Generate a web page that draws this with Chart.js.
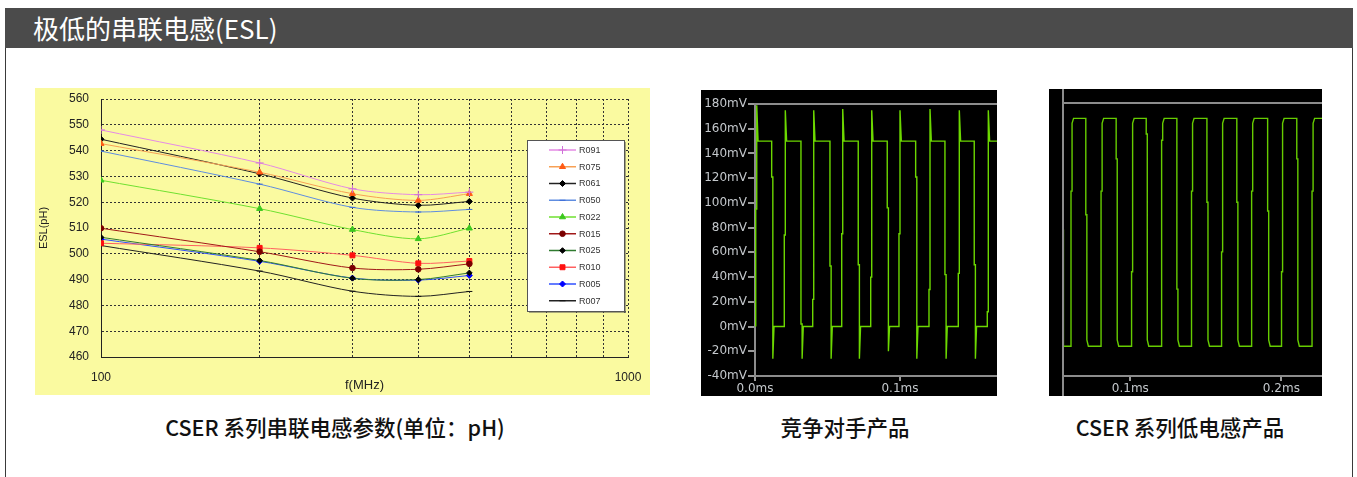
<!DOCTYPE html>
<html><head><meta charset="utf-8">
<script src="https://cdn.jsdelivr.net/npm/chart.js@4.4.0/dist/chart.umd.min.js"></script>
<style>
html,body{margin:0;padding:0;background:#fff;width:1357px;height:477px;overflow:hidden;font-family:"Noto Sans CJK SC","Noto Sans",sans-serif;}
#panel{position:absolute;left:5px;top:8px;width:1348px;height:480px;border:1px solid #3a3a3a;box-sizing:border-box;}
#hdr{position:absolute;left:5px;top:8px;width:1348px;height:40px;background:#4b4b4b;color:#fff;font-size:26px;line-height:40px;padding-left:28px;box-sizing:border-box;white-space:nowrap;}
.box{position:absolute;}
.cap{position:absolute;top:412px;font-size:21.5px;font-weight:500;color:#111;white-space:nowrap;transform:translateX(-50%);line-height:30px;}
</style></head>
<body>
<div id="panel"></div>
<div id="hdr">极低的串联电感(ESL)</div>

<div class="box" style="left:35px;top:88px;width:615px;height:307px;background:#fafaa0;"><canvas id="cMain" width="615" height="307"></canvas></div>
<div class="box" style="left:701px;top:90px;width:296px;height:306px;background:#000;"><canvas id="cScope1" width="296" height="306"></canvas></div>
<div class="box" style="left:1049px;top:89px;width:273px;height:307px;background:#000;"><canvas id="cScope2" width="273" height="307"></canvas></div>
<div class="box" style="left:1062px;top:89px;width:2px;height:307px;background:#8c8c8c;"></div>

<div class="cap" style="left:335px;">CSER 系列串联电感参数(单位：pH)</div>
<div class="cap" style="left:845px;">竞争对手产品</div>
<div class="cap" style="left:1180px;">CSER 系列低电感产品</div>

<script>
// ---------- main chart data ----------
const freqs = [100, 200, 300, 400, 500];
const xGridTicks = [100, 200, 300, 400, 500, 600, 700, 800, 900, 1000];
const xTickLabels = [100, 1000];
const seriesNames = ['R091','R075','R061','R050','R022','R015','R025','R010','R005','R007'];
const R091 = [548.0, 535.2, 525.2, 522.9, 523.9];
const R075 = [542.7, 531.6, 523.3, 520.7, 523.3];
const R061 = [544.4, 531.0, 521.6, 518.8, 520.3];
const R050 = [539.8, 527.0, 518.0, 516.2, 517.2];
const R022 = [528.5, 517.5, 509.4, 505.8, 509.9];
const R015 = [509.9, 500.8, 494.5, 494.0, 496.1];
const R025 = [506.4, 497.4, 490.5, 490.0, 492.6];
const R010 = [504.1, 502.3, 499.4, 496.3, 497.2];
const R005 = [505.7, 497.1, 490.6, 489.8, 491.6];
const R007 = [503.2, 493.3, 485.5, 483.5, 485.4];
const seriesValues = {R091,R075,R061,R050,R022,R015,R025,R010,R005,R007};

// ---------- oscilloscope data (time in ms, level in mV) ----------
const scopeYTicks = [-40,-20,0,20,40,60,80,100,120,140,160,180];
const scope1XTicks = [0, 0.1];
const scope1XTickLabels = ['0.0ms','0.1ms'];
const scope1RiseT = [0.0005, 0.0202, 0.0398, 0.0598, 0.0798, 0.0993, 0.1200, 0.1402, 0.1602];
const scope1FallT = [0.0115, 0.0317, 0.0517, 0.0712, 0.0912, 0.1108, 0.1310, 0.1512];
const scope1RiseStep = [95, 74, 22, 75, 40, 75, 30, 43, 12];
const scope1FallStep = [121, 2, 49, 50, 96, 121, 42, 50];
const scope1Peak = [179, 175, 175, 176, 175, 175, 176, 175, 175];
const scope1Under = [-26, -26, -26, -26, -20, -26, -26, -26];
const scope1High = 150, scope1Low = 0;
const scope1Range = [0, 0.1669];

const scope2XTicks = [0.1, 0.2];
const scope2XTickLabels = ['0.1ms','0.2ms'];
const scope2RiseT = [0.0607, 0.0806, 0.1008, 0.1207, 0.1405, 0.1604, 0.1803, 0.2001, 0.2203];
const scope2FallT = [0.0705, 0.0906, 0.1105, 0.1308, 0.1507, 0.1705, 0.1909, 0.2102];
const scope2RiseStep = [109, 109, 44, 150, 109, 60, 109, 44, 109];
const scope2FallStep = [90, 135, 155, 30, 100, 100, 93, 135];
const scope2High = 167.6, scope2Low = -16;
const scope2StartLevel = 78;
const scope2Range = [0.0554, 0.2269];

// ---------- styles ----------
const styles = {
  R091:{line:'#e58ae5', mark:'#d070d8', shape:'cross', r:4},
  R075:{line:'#f7a055', mark:'#ff5a14', shape:'triangle', r:3.5},
  R061:{line:'#222222', mark:'#000000', shape:'rectRot', r:3},
  R050:{line:'#5f8de0', mark:'#3a6ad8', shape:'line', r:3},
  R022:{line:'#6fe030', mark:'#3cc81e', shape:'triangle', r:3.5},
  R015:{line:'#a01818', mark:'#7a0000', shape:'circle', r:2.8},
  R025:{line:'#2f7a2f', mark:'#000000', shape:'rectRot', r:2.8},
  R010:{line:'#ff6060', mark:'#ff1010', shape:'rect', r:3.5},
  R005:{line:'#3050ff', mark:'#0000ff', shape:'rectRot', r:3},
  R007:{line:'#222222', mark:'#111111', shape:'line', r:3}
};

function drawMarker(ctx, style, radius, x, y) {
  if (Chart.helpers && Chart.helpers.drawPoint) {
    Chart.helpers.drawPoint(ctx, {pointStyle: style, radius: radius, borderWidth: 1, rotation: 0}, x, y);
    return;
  }
  ctx.beginPath(); ctx.arc(x, y, radius, 0, Math.PI*2); ctx.fill(); ctx.stroke();
}

const boxLegend = {
  id: 'boxLegend',
  afterDraw(chart) {
    const ctx = chart.ctx;
    const bx = 492, by = 52, bw = 97, bh = 171;
    ctx.save();
    ctx.fillStyle = '#ffffff';
    ctx.fillRect(bx, by, bw, bh);
    ctx.strokeStyle = '#555';
    ctx.lineWidth = 1;
    ctx.strokeRect(bx + 0.5, by + 0.5, bw, bh);
    ctx.fillStyle = '#555';
    ctx.fillRect(bx + bw, by + 2, 1.5, bh);
    ctx.fillRect(bx + 2, by + bh, bw, 1.5);
    chart.data.datasets.forEach((ds, i) => {
      const y = 62 + i * 16.75;
      ctx.strokeStyle = ds.borderColor;
      ctx.lineWidth = 1.5;
      ctx.beginPath(); ctx.moveTo(514, y); ctx.lineTo(541, y); ctx.stroke();
      ctx.fillStyle = ds.pointBackgroundColor;
      ctx.strokeStyle = ds.pointBorderColor;
      ctx.lineWidth = 1;
      drawMarker(ctx, ds.pointStyle, ds.pointRadius, 527.5, y);
      ctx.fillStyle = '#333';
      ctx.font = '9px "Liberation Sans", Arial, sans-serif';
      ctx.textBaseline = 'middle';
      ctx.textAlign = 'left';
      ctx.fillText(ds.label, 544, y + 0.5);
    });
    ctx.restore();
  }
};

const chartFont = '"Liberation Sans", Arial, sans-serif';

new Chart(document.getElementById('cMain'), {
  type: 'line',
  data: {
    datasets: seriesNames.map(n => ({
      label: n,
      data: freqs.map((f, i) => ({x: f, y: seriesValues[n][i]})),
      borderColor: styles[n].line,
      backgroundColor: styles[n].mark,
      pointBackgroundColor: styles[n].mark,
      pointBorderColor: styles[n].mark,
      pointStyle: styles[n].shape,
      pointRadius: styles[n].r,
      pointBorderWidth: 1,
      borderWidth: 1,
      tension: 0.3,
      fill: false
    }))
  },
  options: {
    responsive: false, animation: false, maintainAspectRatio: false,
    layout: {padding: {left: 0, right: 22, top: 11, bottom: 0}},
    plugins: {legend: {display: false}, tooltip: {enabled: false}},
    scales: {
      x: {
        type: 'logarithmic', min: 100, max: 1000,
        afterFit(s) { s.height = 38; },
        afterBuildTicks(s) { s.ticks = xGridTicks.map(v => ({value: v})); },
        ticks: {
          autoSkip: false, maxRotation: 0, padding: 1, color: '#222',
          font: {family: chartFont, size: 12},
          callback: (v) => xTickLabels.some(t => Math.abs(t - v) < 1e-6) ? String(Math.round(v)) : ''
        },
        grid: {color: '#333', lineWidth: 1, drawTicks: true, tickLength: 12, tickColor: 'rgba(0,0,0,0)'},
        border: {display: true, color: '#222', width: 1, dash: [2, 2]},
        title: {display: true, text: 'f(MHz)', color: '#222', font: {family: chartFont, size: 13}, padding: {top: 0, bottom: 2}}
      },
      y: {
        min: 460, max: 560,
        afterFit(s) { s.width = 66; },
        ticks: {stepSize: 10, padding: 1, color: '#222', font: {family: chartFont, size: 12}},
        grid: {color: '#333', lineWidth: 1, drawTicks: true, tickLength: 11, tickColor: 'rgba(0,0,0,0)'},
        border: {display: true, color: '#222', width: 1, dash: [2, 2]},
        title: {display: true, text: 'ESL(pH)', color: '#222', font: {family: chartFont, size: 11}, padding: {top: 2, bottom: 0}}
      }
    }
  },
  plugins: [boxLegend]
});

// ---------- scope waveform tables built from the read edges ----------
function buildScope1() {
  const pts = [];
  for (let i = 0; i < scope1RiseT.length; i++) {
    const r = scope1RiseT[i];
    pts.push({x: r, y: scope1Low});
    pts.push({x: r, y: scope1RiseStep[i]});
    pts.push({x: r + 0.0007, y: scope1RiseStep[i]});
    pts.push({x: r + 0.0007, y: scope1Peak[i]});
    pts.push({x: r + 0.0016, y: scope1High});
    const f = scope1FallT[i];
    if (f === undefined) { pts.push({x: scope1Range[1], y: scope1High}); break; }
    pts.push({x: f, y: scope1High});
    pts.push({x: f, y: scope1FallStep[i]});
    pts.push({x: f + 0.0008, y: scope1FallStep[i]});
    pts.push({x: f + 0.0008, y: scope1Under[i]});
    pts.push({x: f + 0.0016, y: scope1Low});
  }
  return pts;
}
function buildScope2() {
  const pts = [{x: scope2Range[0] + 0.0003, y: scope2StartLevel}, {x: scope2Range[0] + 0.0003, y: scope2Low}];
  for (let i = 0; i < scope2RiseT.length; i++) {
    const r = scope2RiseT[i];
    pts.push({x: r, y: scope2Low});
    pts.push({x: r, y: scope2RiseStep[i]});
    pts.push({x: r + 0.0007, y: scope2RiseStep[i]});
    pts.push({x: r + 0.0007, y: scope2High - 4});
    pts.push({x: r + 0.0017, y: scope2High});
    const f = scope2FallT[i];
    if (f === undefined) { pts.push({x: scope2Range[1], y: scope2High}); break; }
    pts.push({x: f, y: scope2High});
    pts.push({x: f, y: scope2FallStep[i]});
    pts.push({x: f + 0.0007, y: scope2FallStep[i]});
    pts.push({x: f + 0.0007, y: scope2Low + 5});
    pts.push({x: f + 0.0017, y: scope2Low});
  }
  return pts;
}

const scopeFont = '"DejaVu Sans", Verdana, sans-serif';
function scopeChart(id, pts, color, range, xTicks, xLabels, showY, yWidth) {
  return new Chart(document.getElementById(id), {
    type: 'line',
    data: {datasets: [{data: pts, borderColor: color, borderWidth: 1.4, pointRadius: 0, tension: 0, fill: false}]},
    options: {
      responsive: false, animation: false, maintainAspectRatio: false,
      layout: {padding: {left: 0, right: 0, top: 14, bottom: 0}},
      plugins: {legend: {display: false}, tooltip: {enabled: false}},
      scales: {
        x: {
          type: 'linear', min: range[0], max: range[1],
          afterFit(s) { s.height = 20; },
          afterBuildTicks(s) { s.ticks = xTicks.map(v => ({value: v})); },
          ticks: {
            autoSkip: false, maxRotation: 0, padding: 1, color: '#c4c8cc',
            font: {family: scopeFont, size: 12},
            callback: (v) => { const k = xTicks.findIndex(t => Math.abs(t - v) < 1e-9); return k >= 0 ? xLabels[k] : null; }
          },
          grid: {drawOnChartArea: false, drawTicks: true, tickLength: 5, tickColor: '#9a9a9a', lineWidth: 2},
          border: {display: true, color: '#8c8c8c', width: 2}
        },
        y: {
          min: -40, max: 180,
          afterFit(s) { s.width = yWidth; },
          afterBuildTicks(s) { s.ticks = scopeYTicks.map(v => ({value: v})); },
          ticks: {display: showY, padding: 1, color: '#c4c8cc', font: {family: scopeFont, size: 12}, callback: (v) => v + 'mV'},
          grid: {
            drawTicks: showY, tickLength: 7, tickColor: '#9a9a9a', lineWidth: 2,
            color: (c) => (c.tick && c.tick.value === 180) ? '#8c8c8c' : 'rgba(0,0,0,0)'
          },
          border: {display: true, color: '#8c8c8c', width: 2}
        }
      }
    }
  });
}

scopeChart('cScope1', buildScope1(), '#6cd800', scope1Range, scope1XTicks, scope1XTickLabels, true, 54);
scopeChart('cScope2', buildScope2(), '#66cc00', scope2Range, scope2XTicks, scope2XTickLabels, false, 14);
</script>
</body></html>
